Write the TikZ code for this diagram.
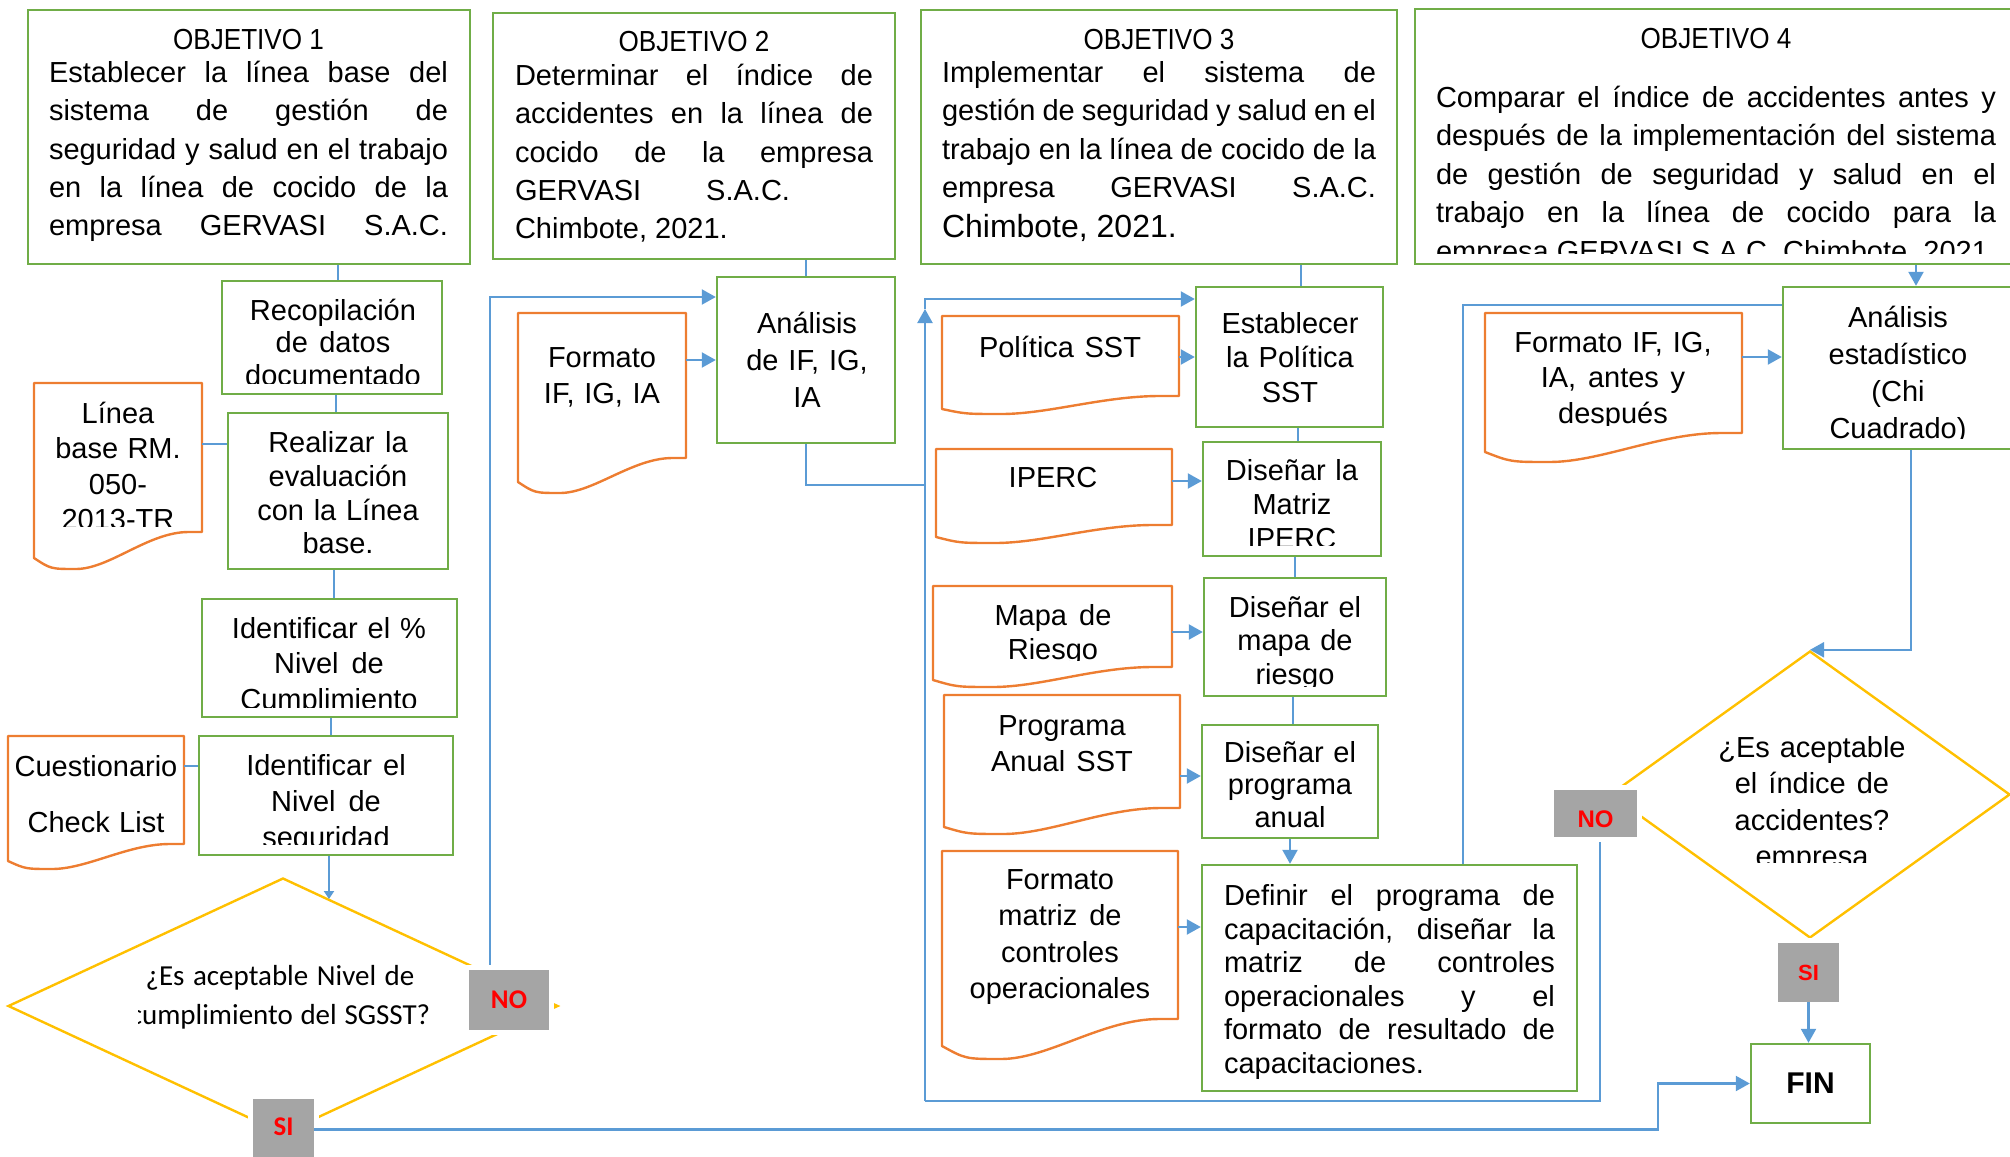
\documentclass[tikz,border=0pt]{standalone}
\usepackage{fontspec}
\setmainfont{Liberation Sans}
\newfontfamily\calfont{Carlito}
\usepackage{graphicx}
\usetikzlibrary{arrows.meta,shapes.geometric}
\definecolor{gr}{HTML}{70AD47}
\definecolor{orn}{HTML}{ED7D31}
\definecolor{blu}{HTML}{5B9BD5}
\definecolor{yel}{HTML}{FFC000}
\definecolor{gry}{HTML}{A5A5A5}
\newcommand\myfs[1]{\fontsize{14.5pt}{#1pt}\selectfont}
\newcommand\mystrut{\spaceskip=0pt\xspaceskip=0pt\rule{0pt}{15pt}}
\newcommand\jl[1]{{\spaceskip=0pt\xspaceskip=0pt\makebox[\hsize][s]{#1}}}
\newcommand\gbox[5]{%
  \pgfmathsetmacro\bxX{(#2+#4)/2}\pgfmathsetmacro\bxY{(#3+#5)/2}%
  \pgfmathsetmacro\bxW{(#4-#2)*0.5}\pgfmathsetmacro\bxH{(#5-#3)*0.5}%
  \node[gbox, minimum width=\bxW pt, minimum height=\bxH pt] (#1) at (\bxX,\bxY) {};}
\newcommand\docshape[7]{%
  \pgfmathsetmacro\dW{#4-#2}%
  \pgfmathsetmacro\dA{#4-0.08*\dW}%
  \pgfmathsetmacro\dB{#4-0.32*\dW}%
  \pgfmathsetmacro\dC{#2+0.45*\dW}%
  \pgfmathsetmacro\dM{#2+0.25*\dW}%
  \pgfmathsetmacro\dD{#2+0.1*\dW}%
  \draw[docl] (#2,#3) -- (#4,#3) -- (#4,#5) -- (\dA,#5) .. controls (\dB,#5) and (\dC,#7) .. (\dM,#7) .. controls (\dD,#7) .. (#2,#6) -- cycle;
  \pgfmathsetmacro\dX{(#2+#4)/2}\pgfmathsetmacro\dY{(#3+#5)/2}%
  \pgfmathsetmacro\dH{(#5-#3)*0.5}\pgfmathsetmacro\dWW{\dW*0.5}%
  \node[inner sep=0, minimum width=\dWW pt, minimum height=\dH pt] (#1) at (\dX,\dY) {};}
\tikzset{
  gbox/.style={draw=gr, line width=1.2pt, inner sep=0},
  docl/.style={draw=orn, line width=1.2pt, line join=round},
  conn/.style={draw=blu, line width=1.1pt},
  connthin/.style={draw=blu, line width=0.7pt},
  arr/.style={conn, -{Triangle[length=7pt,width=7.5pt]}},
  dia/.style={draw=yel, line width=1.2pt, inner sep=0},
  lbl/.style={fill=gry, inner sep=0, text=red, preaction={draw=white, line width=5pt}},
  tx/.style={inner sep=0, anchor=north, align=center, text width=#1},
}
\begin{document}
\begin{tikzpicture}[x=0.5pt,y=-0.5pt]
\useasboundingbox (0,0) rectangle (2010,1157);
\clip (0,0) rectangle (2010,1157);

\coordinate (q1in) at (329,899);
\coordinate (jn) at (925,485);
\coordinate (lb) at (925,1101);
\coordinate (tp) at (925,299);
\coordinate (upa) at (925,309);

% ---------- boxes ----------
\gbox{o1}{28}{10}{470}{264}
\gbox{o2}{493}{13}{895}{259}
\gbox{o3}{921}{10}{1397}{264}
\gbox{o4}{1415}{9}{2019}{264}
\gbox{rec}{222}{281}{442}{394}
\gbox{rea}{228}{413}{448}{569}
\gbox{idp}{202}{599}{457}{717}
\gbox{idn}{199}{736}{453}{855}
\gbox{ana}{717}{277}{895}{443}
\gbox{est}{1196}{287}{1383}{427}
\gbox{mat}{1203}{442}{1381}{556}
\gbox{map}{1204}{578}{1386}{696}
\gbox{pro}{1202}{725}{1378}{838}
\gbox{def}{1202}{865}{1577}{1091}
\gbox{ane}{1783}{287}{2013}{449}
\gbox{fin}{1751}{1044}{1870}{1123}

% ---------- documents ----------
\docshape{dlb}{34}{383}{202}{532}{558}{569}
\docshape{dcu}{8}{736}{184}{844}{861}{869}
\docshape{dfi}{518}{313}{686}{458}{482}{493}
\docshape{dpo}{942}{316}{1179}{396}{409}{414}
\docshape{dip}{936}{449}{1172}{525}{537}{543}
\docshape{dma}{933}{586}{1172}{667}{680}{687}
\docshape{dpr}{944}{695}{1180}{808}{827}{834}
\docshape{dfm}{942}{851}{1178}{1019}{1046}{1059}
\docshape{dfa}{1485}{313}{1742}{433}{452}{462}

% ---------- decisions ----------
\node[dia, diamond, minimum width=275pt, minimum height=128pt] (q1) at (283,1006) {};
\node[dia, diamond, minimum width=200pt, minimum height=143.5pt] (q2) at (1810,794.5) {};

% ---------- connectors ----------
\draw[conn] (o1.south -| 338,0) -- (rec.north -| 338,0);
\draw[conn] (rec.south -| 336,0) -- (rea.north -| 336,0);
\draw[conn] (dlb.east |- 0,444) -- (rea.west |- 0,444);
\draw[conn] (rea.south -| 334,0) -- (idp.north -| 334,0);
\draw[conn] (idp.south -| 331,0) -- (idn.north -| 331,0);
\draw[conn] (dcu.east |- 0,766) -- (idn.west |- 0,766);
\draw[conn, -{Triangle[length=4pt,width=5pt]}] (idn.south -| q1in) -- (q1in);

\draw[conn] (o2.south -| ana.north) -- (ana.north);
\draw[arr] (dfi.east |- ana.west) -- (ana.west);
\draw[arr] (490,966) |- (ana.west |- 0,297);
\draw[conn] (ana.south) |- (jn);

\draw[connthin] (1600,837) |- (lb);
\draw[connthin] (lb) -- (jn);
\draw[arr] (jn) -- (upa);
\draw[arr] (upa) -- (tp) -- (est.west |- tp);
\draw[conn] (def.north -| 1463,0) |- (ane.west |- 0,305);

\draw[conn] (o3.south -| 1301,0) -- (est.north -| 1301,0);
\draw[arr] (dpo.east |- est.west) -- (est.west);
\draw[conn] (est.south -| 1298,0) -- (mat.north -| 1298,0);
\draw[arr] (dip.east |- 0,481) -- (mat.west |- 0,481);
\draw[conn] (mat.south -| 1295,0) -- (map.north -| 1295,0);
\draw[arr] (dma.east |- 0,632) -- (map.west |- 0,632);
\draw[conn] (map.south -| 1293,0) -- (pro.north -| 1293,0);
\draw[arr] (dpr.east |- 0,776) -- (pro.west |- 0,776);
\draw[arr] (pro.south -| 1290,0) -- (def.north -| 1290,0);
\draw[arr] (dfm.east |- 0,927) -- (def.west |- 0,927);

\draw[arr] (o4.south -| 1916,0) -- (ane.north -| 1916,0);
\draw[arr] (dfa.east |- 0,357) -- (ane.west |- 0,357);
\draw[arr] (ane.south -| 1911,0) |- (q2.north);

% ---------- labels ----------
\node[lbl, minimum width=40pt, minimum height=30pt, font=\calfont\bfseries\fontsize{13.5pt}{14pt}\selectfont] (no1) at (509,1000) {NO};
\node[lbl, minimum width=30.5pt, minimum height=30.5pt, font=\calfont\bfseries\fontsize{13.5pt}{14pt}\selectfont] (si1) at (283.5,1129.5) {\raisebox{-3.1pt}[0pt][0pt]{SI}};
\node[lbl, minimum width=41.5pt, minimum height=23.5pt, font=\bfseries\fontsize{12pt}{13pt}\selectfont] (no2) at (1595.5,813.5) {\raisebox{-6.8pt}[0pt][0pt]{NO}};
\node[lbl, minimum width=30.5pt, minimum height=29.5pt, font=\bfseries\fontsize{11pt}{12pt}\selectfont] (si2) at (1808.5,972.5) {SI};

\draw[arr] (si2.south) -- (fin.north -| si2.south);
\draw[arr] (si1.east) -- (1658,1129.5) |- (fin.west);

% ---------- texts ----------
\node[tx=199.5pt, align=left, font=\myfs{19.15}] (t-o1) at (248.5,18.6) {\mystrut\makebox[\hsize]{\scalebox{0.9}[1]{OBJETIVO 1}}\\[-2.45pt]
\jl{Establecer la línea base del}\\
\jl{sistema de gestión de}\\
\jl{seguridad y salud en el trabajo}\\
\jl{en la línea de cocido de la}\\
\jl{empresa GERVASI S.A.C.}};

\node[tx=179pt, align=left, font=\myfs{19.15}] (t-o2) at (694,21) {\mystrut\makebox[\hsize]{\scalebox{0.9}[1]{OBJETIVO 2}}\\[-2.15pt]
\jl{Determinar el índice de}\\
\jl{accidentes en la línea de}\\
\jl{cocido de la empresa}\\
{\spaceskip=0pt\makebox[137.5pt][s]{GERVASI S.A.C.}}\\
Chimbote, 2021.};

\node[tx=217pt, align=left, font=\myfs{19.15}] (t-o3) at (1159,18.6) {\mystrut\makebox[\hsize]{\scalebox{0.9}[1]{OBJETIVO 3}}\\[-2.45pt]
\jl{Implementar el sistema de}\\
\jl{gestión de seguridad y salud en el}\\
\jl{trabajo en la línea de cocido de la}\\
\jl{empresa GERVASI S.A.C.}\\[0.8pt]
{\fontsize{16pt}{19pt}\selectfont Chimbote, 2021.}};

\begin{scope}
\clip (1415,0) rectangle (2010,253);
\node[tx=280pt, align=left, font=\myfs{19.25}] (t-o4) at (1716,18) {\mystrut\makebox[\hsize]{\scalebox{0.9}[1]{OBJETIVO 4}}\\[10.25pt]
\jl{Comparar el índice de accidentes antes y}\\
\jl{después de la implementación del sistema}\\
\jl{de gestión de seguridad y salud en el}\\
\jl{trabajo en la línea de cocido para la}\\
\jl{empresa GERVASI S.A.C. Chimbote, 2021.}};
\end{scope}

\begin{scope}
\clip (222,281) rectangle (442,383);
\node[tx=105pt, font=\myfs{16.25}] (t-rec) at (333,290) {\mystrut Recopilación\\de datos\\documentado};
\end{scope}
\begin{scope}
\clip (34,383) rectangle (202,526);
\node[tx=82pt, font=\myfs{17.65}] (t-dlb) at (118,393) {\mystrut Línea\\base RM.\\050-\\2013-TR};
\end{scope}
\node[tx=105pt, font=\myfs{16.9}] (t-rea) at (338,422) {\mystrut Realizar la\\evaluación\\con la Línea\\base.};
\begin{scope}
\clip (202,599) rectangle (457,707);
\node[tx=125pt, font=\myfs{17.75}] (t-idp) at (329,608) {\mystrut Identificar el \%\\Nivel de\\Cumplimiento};
\end{scope}
\begin{scope}
\clip (199,736) rectangle (453,844);
\node[tx=125pt, font=\myfs{18}] (t-idn) at (326,745) {\mystrut Identificar el\\Nivel de\\seguridad};
\end{scope}
\node[tx=88pt, font=\myfs{28}] (t-dcu) at (96,746) {\mystrut Cuestionario\\Check List};
\begin{scope}
\clip (138,880) rectangle (560,1100);
\node[tx=170pt, font=\calfont\myfs{19.5}] (t-q1) at (280,955) {\mystrut¿Es aceptable Nivel de\\cumplimiento del SGSST?};
\end{scope}

\node[tx=88pt, font=\myfs{18.5}] (t-ana) at (807,303) {\mystrut Análisis\\de IF, IG,\\IA};
\node[tx=82pt, font=\myfs{18}] (t-dfi) at (602,337) {\mystrut Formato\\IF, IG, IA};

\node[tx=92pt, font=\myfs{17.25}] (t-est) at (1290,303) {\mystrut Establecer\\la Política\\SST};
\node[tx=116pt, font=\myfs{17}] (t-dpo) at (1060,327) {\mystrut Política SST};
\begin{scope}
\clip (1203,442) rectangle (1381,545);
\node[tx=88pt, font=\myfs{17}] (t-mat) at (1292,450) {\mystrut Diseñar la\\Matriz\\IPERC};
\end{scope}
\node[tx=116pt, font=\myfs{17}] (t-dip) at (1053,457) {\mystrut IPERC};
\begin{scope}
\clip (1204,578) rectangle (1386,686);
\node[tx=90pt, font=\myfs{16.75}] (t-map) at (1295,587) {\mystrut Diseñar el\\mapa de\\riesgo};
\end{scope}
\begin{scope}
\clip (933,586) rectangle (1172,660);
\node[tx=116pt, font=\myfs{17}] (t-dma) at (1053,595) {\mystrut Mapa de\\Riesgo};
\end{scope}
\begin{scope}
\clip (1202,725) rectangle (1378,827);
\node[tx=88pt, font=\myfs{16.25}] (t-pro) at (1290,732) {\mystrut Diseñar el\\programa\\anual};
\end{scope}
\node[tx=116pt, font=\myfs{18}] (t-dpr) at (1062,705) {\mystrut Programa\\Anual SST};
\node[tx=165.5pt, align=left, font=\myfs{16.8}] (t-def) at (1389.5,875) {\mystrut\jl{Definir el programa de}\\
\jl{capacitación, diseñar la}\\
\jl{matriz de controles}\\
\jl{operacionales y el}\\
\jl{formato de resultado de}\\
capacitaciones.};
\node[tx=116pt, font=\myfs{18.15}] (t-dfm) at (1060,859) {\mystrut Formato\\matriz de\\controles\\operacionales};

\begin{scope}
\clip (1485,313) rectangle (1742,425);
\node[tx=126pt, font=\myfs{17.75}] (t-dfa) at (1613,322) {\mystrut Formato IF, IG,\\IA, antes y\\después};
\end{scope}
\begin{scope}
\clip (1783,287) rectangle (2010,438);
\node[tx=112pt, font=\myfs{18.5}] (t-ane) at (1898,297) {\mystrut Análisis\\estadístico\\(Chi\\Cuadrado)};
\end{scope}
\begin{scope}
\clip (1600,650) rectangle (2010,862.5);
\node[tx=120pt, font=\myfs{18.25}] (t-q2) at (1812,727) {\mystrut¿Es aceptable\\el índice de\\accidentes?\\empresa};
\end{scope}
\node[font=\bfseries\fontsize{15pt}{16pt}\selectfont, inner sep=0] (t-fin) at (fin.center) {FIN};
\end{tikzpicture}
\end{document}
